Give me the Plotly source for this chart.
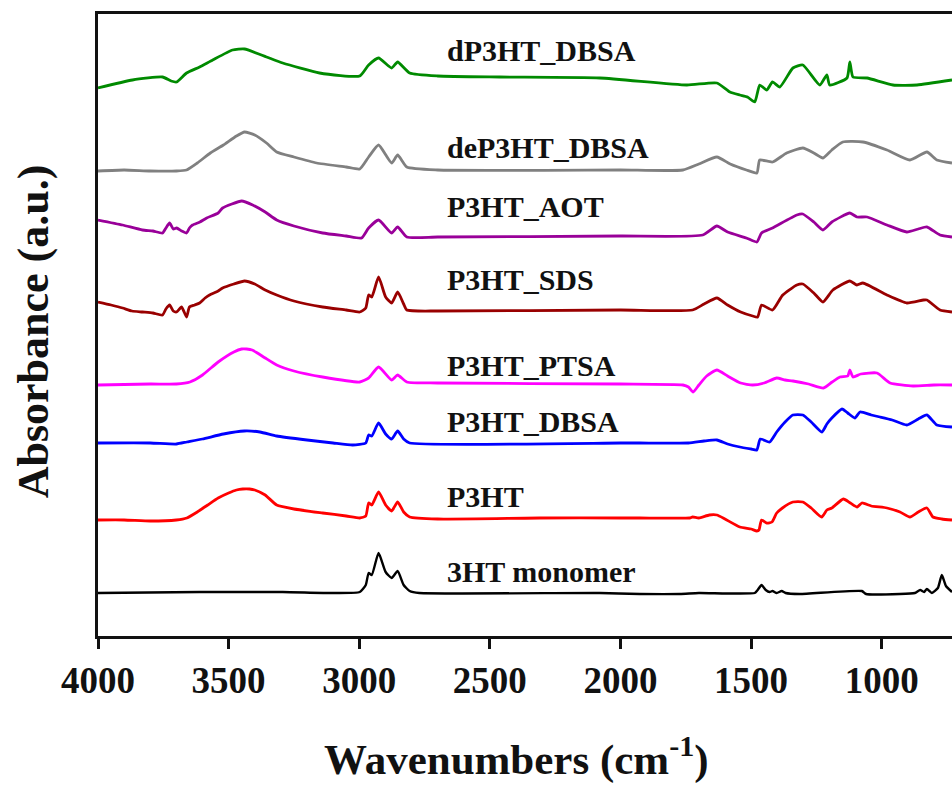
import plotly.graph_objects as go

# FTIR absorbance spectra, vertically stacked (absorbance in arbitrary units)
# Each series: wavenumbers (cm-1) and absorbance values with offset applied.

wn_monomer = [4000, 3611, 3293, 3100, 2998, 2975, 2964, 2952, 2926, 2899, 2876, 2853, 2830, 2807,
              2770, 2079, 1926, 1773, 1700, 1486, 1475, 1460, 1444, 1429, 1418, 1402, 1383, 1368,
              1314, 1076, 1060, 931, 873, 853, 838, 827, 808, 785, 770, 754, 731]
ab_monomer = [0.43, 0.44, 0.44, 0.43, 0.44, 0.51, 0.63, 0.61, 0.83, 0.64, 0.58, 0.65, 0.51, 0.45,
              0.43, 0.43, 0.42, 0.42, 0.43, 0.43, 0.46, 0.51, 0.46, 0.44, 0.45, 0.43, 0.45, 0.43,
              0.42, 0.45, 0.42, 0.42, 0.43, 0.46, 0.44, 0.47, 0.43, 0.48, 0.61, 0.50, 0.44]

wn_p3ht = [4000, 3900, 3800, 3700, 3660, 3620, 3580, 3540, 3500, 3470, 3446, 3420, 3400, 3360,
           3316, 3250, 3140, 3050, 2998, 2975, 2964, 2952, 2926, 2899, 2876, 2853, 2830, 2807,
           2700, 2309, 2000, 1926, 1735, 1724, 1700, 1660, 1631, 1600, 1543, 1500, 1478, 1470,
           1460, 1440, 1420, 1402, 1380, 1340, 1302, 1270, 1230, 1210, 1191, 1147, 1120, 1094,
           1076, 1040, 980, 930, 892, 860, 827, 804, 770, 731]
ab_p3ht = [1.16, 1.16, 1.15, 1.16, 1.18, 1.24, 1.31, 1.38, 1.43, 1.46, 1.47, 1.47, 1.46, 1.41,
           1.31, 1.27, 1.23, 1.20, 1.18, 1.20, 1.33, 1.31, 1.44, 1.31, 1.25, 1.34, 1.24, 1.19,
           1.17, 1.18, 1.18, 1.18, 1.18, 1.19, 1.18, 1.21, 1.21, 1.17, 1.09, 1.07, 1.05, 1.06,
           1.16, 1.13, 1.14, 1.23, 1.28, 1.34, 1.34, 1.28, 1.19, 1.26, 1.28, 1.37, 1.33, 1.29,
           1.33, 1.30, 1.28, 1.24, 1.19, 1.24, 1.28, 1.19, 1.17, 1.16]

wn_dbsa = [4000, 3800, 3700, 3660, 3600, 3520, 3440, 3380, 3316, 3200, 3100, 3025, 2975, 2964,
           2952, 2926, 2899, 2876, 2853, 2830, 2807, 2000, 1926, 1740, 1680, 1631, 1590, 1543,
           1500, 1478, 1465, 1429, 1402, 1370, 1340, 1302, 1270, 1229, 1210, 1191, 1152, 1130,
           1103, 1083, 1040, 1007, 960, 904, 860, 827, 789, 731]
ab_dbsa = [1.93, 1.93, 1.92, 1.94, 1.97, 2.02, 2.05, 2.04, 2.00, 1.96, 1.93, 1.91, 1.93, 2.01,
           2.00, 2.13, 2.02, 1.97, 2.05, 1.97, 1.93, 1.93, 1.93, 1.93, 1.95, 1.96, 1.92, 1.89,
           1.87, 1.86, 1.97, 1.94, 2.04, 2.14, 2.21, 2.21, 2.14, 2.04, 2.12, 2.18, 2.27, 2.23,
           2.18, 2.24, 2.21, 2.19, 2.16, 2.11, 2.17, 2.21, 2.11, 2.09]

wn_ptsa = [4000, 3800, 3700, 3648, 3600, 3540, 3480, 3450, 3431, 3410, 3390, 3360, 3316, 3250,
           3140, 2998, 2964, 2926, 2876, 2853, 2818, 2700, 2000, 1761, 1740, 1722, 1700, 1670,
           1631, 1590, 1540, 1494, 1450, 1402, 1370, 1340, 1280, 1223, 1190, 1160, 1130, 1122,
           1110, 1080, 1018, 968, 880, 800, 731]
ab_ptsa = [2.51, 2.52, 2.52, 2.54, 2.61, 2.74, 2.84, 2.87, 2.87, 2.86, 2.83, 2.78, 2.71, 2.65,
           2.59, 2.54, 2.58, 2.69, 2.56, 2.61, 2.54, 2.53, 2.52, 2.51, 2.49, 2.44, 2.51, 2.60,
           2.66, 2.60, 2.53, 2.51, 2.53, 2.58, 2.56, 2.55, 2.52, 2.48, 2.54, 2.59, 2.60, 2.66,
           2.59, 2.62, 2.63, 2.53, 2.50, 2.51, 2.51]

wn_sds = [4000, 3950, 3906, 3870, 3830, 3790, 3753, 3740, 3726, 3712, 3699, 3680, 3661, 3650,
          3630, 3611, 3590, 3573, 3540, 3523, 3480, 3439, 3400, 3360, 3316, 3250, 3140, 3050,
          2998, 2975, 2964, 2952, 2926, 2899, 2876, 2853, 2830, 2818, 2700, 2000, 1724, 1680,
          1631, 1590, 1540, 1494, 1475, 1460, 1418, 1379, 1325, 1302, 1260, 1225, 1187, 1122,
          1095, 1072, 980, 904, 840, 827, 777, 731]
ab_sds = [3.34, 3.31, 3.28, 3.25, 3.24, 3.23, 3.21, 3.27, 3.31, 3.25, 3.24, 3.29, 3.19, 3.29,
          3.31, 3.33, 3.38, 3.41, 3.45, 3.48, 3.52, 3.55, 3.52, 3.46, 3.41, 3.35, 3.29, 3.26,
          3.24, 3.28, 3.41, 3.39, 3.59, 3.39, 3.33, 3.44, 3.32, 3.26, 3.25, 3.26, 3.26, 3.32,
          3.38, 3.31, 3.24, 3.20, 3.19, 3.31, 3.26, 3.41, 3.51, 3.52, 3.43, 3.34, 3.46, 3.55,
          3.51, 3.53, 3.41, 3.33, 3.36, 3.36, 3.26, 3.24]

wn_aot = [4000, 3906, 3830, 3790, 3753, 3740, 3726, 3712, 3699, 3680, 3661, 3650, 3638, 3610,
          3584, 3540, 3523, 3450, 3408, 3360, 3316, 3250, 3140, 3050, 2991, 2964, 2926, 2876,
          2853, 2818, 2700, 2000, 1685, 1631, 1590, 1518, 1478, 1460, 1418, 1325, 1302, 1260,
          1225, 1191, 1122, 1095, 1056, 980, 904, 860, 827, 777, 731]
ab_aot = [4.16, 4.11, 4.06, 4.05, 4.03, 4.08, 4.13, 4.07, 4.08, 4.05, 4.03, 4.08, 4.11, 4.14,
          4.18, 4.23, 4.28, 4.35, 4.31, 4.24, 4.16, 4.10, 4.03, 4.00, 3.98, 4.08, 4.16, 4.03,
          4.09, 3.99, 3.99, 4.00, 4.01, 4.10, 4.04, 3.98, 3.94, 4.03, 4.08, 4.21, 4.22, 4.14,
          4.06, 4.14, 4.23, 4.19, 4.19, 4.11, 4.04, 4.07, 4.09, 4.01, 3.99]

wn_dep3ht = [4000, 3900, 3800, 3700, 3661, 3620, 3570, 3520, 3470, 3439, 3400, 3355, 3316, 3250,
             3163, 3050, 2998, 2964, 2926, 2876, 2853, 2818, 2700, 2000, 1761, 1700, 1631, 1580,
             1518, 1478, 1467, 1418, 1364, 1302, 1260, 1225, 1191, 1149, 1072, 980, 892, 827,
             789, 731]
ab_dep3ht = [4.65, 4.66, 4.65, 4.65, 4.66, 4.73, 4.83, 4.91, 5.00, 5.04, 5.01, 4.93, 4.84, 4.79,
             4.73, 4.69, 4.67, 4.79, 4.91, 4.73, 4.81, 4.69, 4.66, 4.66, 4.66, 4.72, 4.79, 4.72,
             4.66, 4.63, 4.76, 4.74, 4.83, 4.88, 4.83, 4.78, 4.86, 4.94, 4.94, 4.86, 4.76, 4.84,
             4.76, 4.73]

wn_dp3ht = [4000, 3868, 3753, 3720, 3699, 3661, 3611, 3561, 3485, 3439, 3355, 3293, 3152, 2998,
            2964, 2926, 2876, 2853, 2807, 2700, 2462, 2079, 1746, 1631, 1581, 1543, 1514, 1486,
            1467, 1440, 1418, 1390, 1340, 1302, 1237, 1210, 1199, 1133, 1122, 1110, 1056, 957,
            865, 731]
ab_dp3ht = [5.48, 5.56, 5.59, 5.55, 5.54, 5.63, 5.69, 5.76, 5.86, 5.87, 5.79, 5.73, 5.63, 5.60,
            5.71, 5.78, 5.68, 5.74, 5.63, 5.60, 5.59, 5.58, 5.51, 5.53, 5.44, 5.41, 5.39, 5.34,
            5.51, 5.46, 5.54, 5.49, 5.68, 5.71, 5.51, 5.61, 5.51, 5.58, 5.74, 5.59, 5.58, 5.51,
            5.51, 5.56]

names = ["3HT monomer", "P3HT", "P3HT_DBSA", "P3HT_PTSA", "P3HT_SDS", "P3HT_AOT",
         "deP3HT_DBSA", "dP3HT_DBSA"]
colors = ["#000000", "#ff0000", "#0000ff", "#ff00ff", "#990000", "#990099", "#808080", "#008a00"]
label_y = [0.65, 1.40, 2.15, 2.71, 3.57, 4.30, 4.89, 5.86]
label_x = 2673

series = [(wn_monomer, ab_monomer), (wn_p3ht, ab_p3ht), (wn_dbsa, ab_dbsa), (wn_ptsa, ab_ptsa),
          (wn_sds, ab_sds), (wn_aot, ab_aot), (wn_dep3ht, ab_dep3ht), (wn_dp3ht, ab_dp3ht)]

FONT = "Liberation Serif, Times New Roman, serif"

fig = go.Figure()
for (wx, ay), name, col in zip(series, names, colors):
    fig.add_trace(go.Scatter(x=wx, y=ay, mode="lines", name=name,
                             line=dict(color=col, width=2.8 if col != "#000000" else 2.4,
                                       shape="spline", smoothing=0.5),
                             showlegend=False))

for name, ly in zip(names, label_y):
    fig.add_annotation(x=label_x, y=ly, text=name, showarrow=False, xanchor="left",
                       yanchor="middle", font=dict(family=FONT, size=30, color="#111111",
                                                   weight="bold"))

fig.add_annotation(x=0.49, y=-0.194, xref="paper", yref="paper",
                   text="Wavenumbers (cm<sup>-1</sup>)", showarrow=False,
                   xanchor="center", yanchor="middle",
                   font=dict(family=FONT, size=43, color="#111111", weight="bold"))
fig.add_annotation(x=-0.076, y=0.49, xref="paper", yref="paper",
                   text="Absorbance (a.u.)", showarrow=False, textangle=-90,
                   xanchor="center", yanchor="middle",
                   font=dict(family=FONT, size=44, color="#111111", weight="bold"))

fig.update_layout(
    width=952, height=785,
    margin=dict(l=98, r=0, t=14, b=149),
    paper_bgcolor="white", plot_bgcolor="white",
    xaxis=dict(range=[4000, 731], tickvals=[4000, 3500, 3000, 2500, 2000, 1500, 1000],
               ticks="outside", ticklen=10, tickwidth=2.5, tickcolor="#111111",
               showline=True, linewidth=3, linecolor="#111111", mirror=True,
               showgrid=False, zeroline=False,
               tickfont=dict(family=FONT, size=37, color="#111111", weight="bold")),
    yaxis=dict(range=[0, 6.22], showticklabels=False, ticks="", showline=True,
               linewidth=3, linecolor="#111111", mirror=False, showgrid=False,
               zeroline=False),
)

fig.write_html("out.html", config={"displayModeBar": False})
